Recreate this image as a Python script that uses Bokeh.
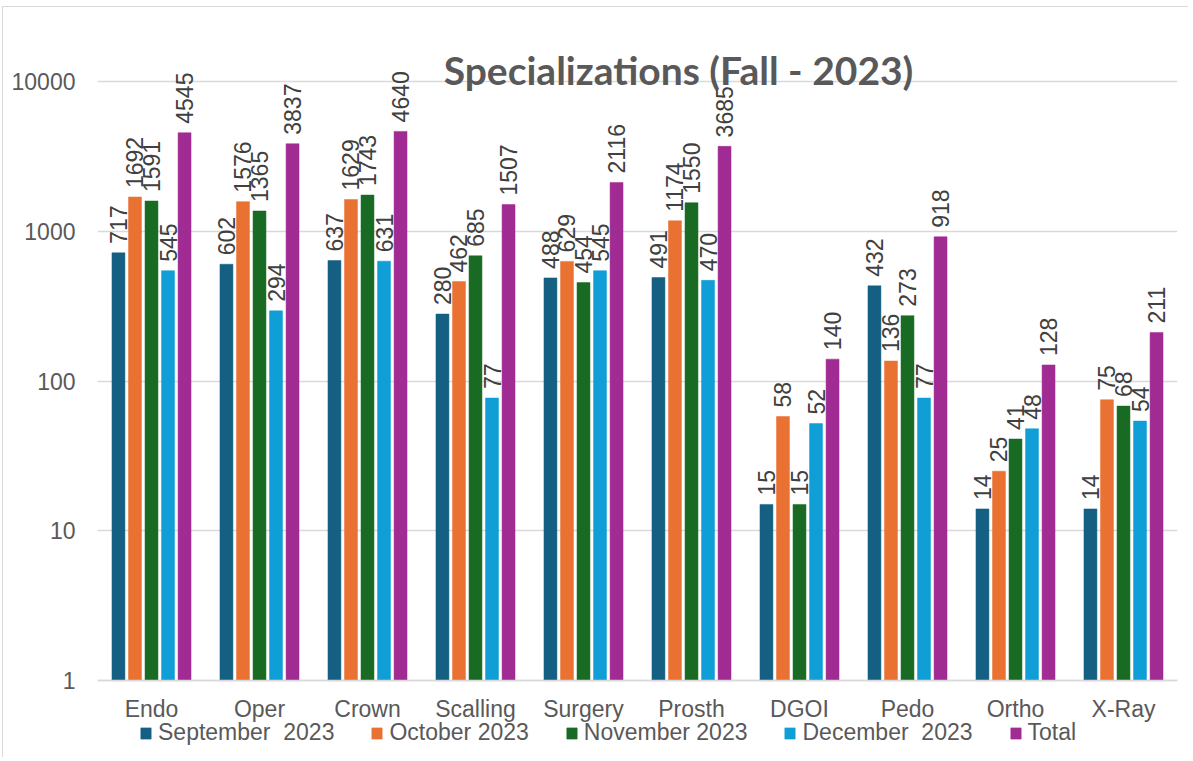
from bokeh.plotting import figure
from bokeh.models import (ColumnDataSource, FactorRange, LabelSet, Legend, LegendItem,
                          Label, NumeralTickFormatter, Range1d)
from bokeh.core.properties import value
from bokeh.transform import dodge
from bokeh.embed import file_html
from bokeh.resources import INLINE

categories = ["Endo", "Oper", "Crown", "Scalling", "Surgery", "Prosth", "DGOI", "Pedo", "Ortho", "X-Ray"]
sep_2023 = [717, 602, 637, 280, 488, 491, 15, 432, 14, 14]
oct_2023 = [1692, 1576, 1629, 462, 629, 1174, 58, 136, 25, 75]
nov_2023 = [1591, 1365, 1743, 685, 454, 1550, 15, 273, 41, 68]
dec_2023 = [545, 294, 631, 77, 545, 470, 52, 77, 48, 54]
total = [4545, 3837, 4640, 1507, 2116, 3685, 140, 918, 128, 211]

series_names = ["September  2023", "October 2023", "November 2023", "December  2023", "Total"]
series_values = [sep_2023, oct_2023, nov_2023, dec_2023, total]
colors = ["#156082", "#E97132", "#196B24", "#0F9ED5", "#A02B93"]
offsets = [-0.306, -0.153, 0.0, 0.153, 0.306]
y_ticks = [1, 10, 100, 1000, 10000]

OX, OY = 3, 7                         # figure content offset on page (margin + border)
W, H = 1186, 751
FL, FR, FT, FB = 97, 1177, 30, 756    # frame edges on the page
PX_PER_DECADE = 150.0
AX_Y = 680                            # page y of value 1
y_start = 10 ** (-(FB - AX_Y) / PX_PER_DECADE)
y_end = 10 ** (4 + (81 - FT) / PX_PER_DECADE)

p = figure(x_range=FactorRange(factors=categories, range_padding=0),
           y_axis_type="log", y_range=Range1d(y_start, y_end),
           width=W, height=H, output_backend="svg", toolbar_location=None,
           min_border_left=FL - OX, min_border_right=W - (FR - OX),
           min_border_top=FT - OY, min_border_bottom=H - (FB - OY))
p.styles = {"margin-left": "2px", "margin-top": "6px",
            "border-left": "1px solid #d9d9d9", "border-top": "1px solid #d9d9d9"}
p.outline_line_color = None
p.background_fill_color = "white"
p.border_fill_color = "white"

font = "Liberation Sans"
fs = "23px"
items = []
for name, vals, col, off in zip(series_names, series_values, colors, offsets):
    src = ColumnDataSource(dict(cat=categories, val=vals, lab=[str(v) for v in vals]))
    r = p.vbar(x=dodge("cat", off, range=p.x_range), top="val", bottom=1, width=0.12,
               source=src, fill_color=col, line_color=col, line_width=0.5)
    items.append(LegendItem(label=name, renderers=[r]))
    labels = LabelSet(x=dodge("cat", off, range=p.x_range), y="val", text="lab", source=src,
                      angle=90, angle_units="deg", text_align="left", text_baseline="middle",
                      y_offset=9, text_font=value(font), text_font_size=value(fs),
                      text_color="#404040")
    p.add_layout(labels)

p.yaxis.ticker = y_ticks
p.yaxis.formatter = NumeralTickFormatter(format="0")
p.yaxis.axis_line_color = None
p.yaxis.major_tick_line_color = None
p.yaxis.minor_tick_line_color = None
p.yaxis.major_label_standoff = 16
p.yaxis.major_label_text_font = font
p.yaxis.major_label_text_font_size = fs
p.yaxis.major_label_text_color = "#595959"

p.xaxis.fixed_location = 1
p.xaxis.axis_line_color = "#d9d9d9"
p.xaxis.axis_line_width = 1.5
p.xaxis.major_tick_line_color = None
p.xaxis.minor_tick_line_color = None
p.xaxis.major_label_standoff = 9
p.xaxis.major_label_text_font = font
p.xaxis.major_label_text_font_size = fs
p.xaxis.major_label_text_color = "#595959"

p.xgrid.grid_line_color = None
p.ygrid.grid_line_color = "#d9d9d9"
p.ygrid.grid_line_width = 1.5

legend = Legend(items=items, orientation="horizontal", location=(139 - FL, FB - 746),
                border_line_color=None, background_fill_alpha=0, padding=0, margin=0,
                spacing=36, glyph_width=13, glyph_height=14, label_standoff=6,
                label_text_font=font, label_text_font_size=fs, label_text_color="#595959")
p.add_layout(legend)

title = Label(x=678 - FL, y=FB - 69, x_units="screen", y_units="screen",
              text="Specializations (Fall - 2023)", text_align="center", text_baseline="alphabetic",
              text_font="Lato", text_font_style="bold", text_font_size="39px", text_color="#595959")
p.add_layout(title)

open("out.html", "w").write(file_html(p, INLINE))
